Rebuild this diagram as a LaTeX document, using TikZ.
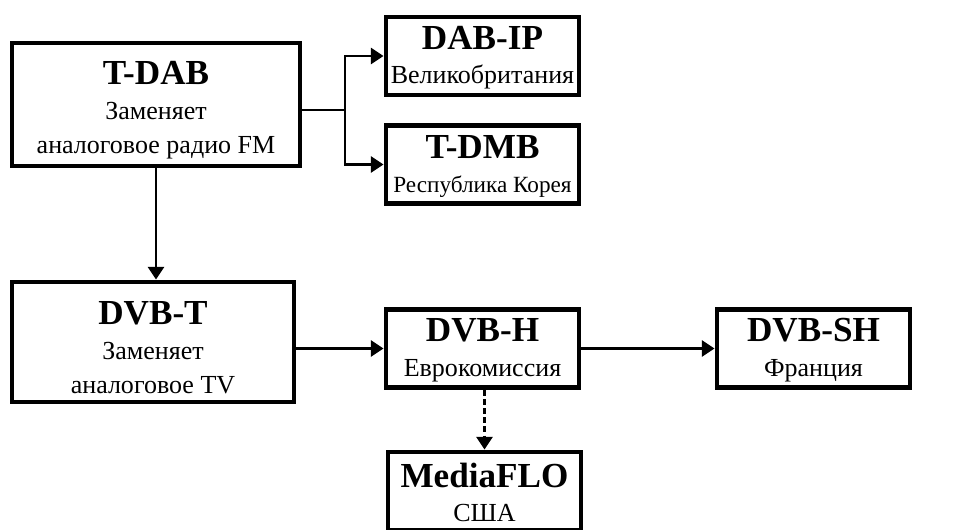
\documentclass[tikz,border=0pt]{standalone}
\usepackage{fontspec}
\setmainfont{Liberation Serif}
\usetikzlibrary{positioning, arrows.meta}
% titulo de cada caja
\newcommand{\tit}[2][19pt]{\rule{0pt}{#1}{\fontsize{25}{28}\selectfont\bfseries #2}}

\begin{document}
\begin{tikzpicture}[x=0.025cm,y=-0.025cm,
        caja/.style={draw,line width=3.4pt,align=center,inner sep=0pt,
            minimum width=4.825cm,minimum height=1.95cm,
            font=\fontsize{18.5}{24.5}\selectfont},
        flecha/.style={line width=2pt,-{Triangle[length=3.2mm,width=4mm]}}]
            % marco de la figura
            \useasboundingbox (0,0) rectangle (958,530);

            % La fila de arriba
            \node[caja,minimum width=7.2cm,minimum height=3.075cm](tdab) at (156,104.5)
                {\tit[25pt]{T-DAB}\\ Заменяет\\ аналоговое радио FM};
            \node[caja](dabip) at (482.5,56) {\tit{DAB-IP}\\ Великобритания};
            \node[caja](tdmb) at (482.5,164.5)
                {\tit{T-DMB}\\ {\fontsize{16.5}{20}\selectfont Республика Корея}};

            % La fila de abajo
            \node[caja,minimum width=7.05cm,minimum height=3.0cm](dvbt) at (153,342)
                {\tit[25pt]{DVB-T}\\ Заменяет\\ аналоговое TV};
            \node[caja](dvbh) at (482.5,348.5) {\tit{DVB-H}\\ Еврокомиссия};
            \node[caja](dvbsh) at (813.5,348.5) {\tit{DVB-SH}\\ Франция};
            \node[caja](mflo) at (484.5,491) {\tit{MediaFLO}\\ США};

            \coordinate (rama) at (345,110);

            \draw[line width=2pt] (tdab.east |- rama) -- (rama);
            \draw[flecha] (rama) |- (dabip.west);
            \draw[flecha] (rama) |- (tdmb.west);

            \draw[flecha] (tdab.south) -- (tdab.south |- dvbt.north);
            \draw[flecha] (dvbt.east |- dvbh.west) -- (dvbh.west);
            \draw[flecha] (dvbh.east) -- (dvbsh.west);
            \draw[flecha,dash pattern=on 4pt off 2.5pt] (dvbh.south -| mflo.north) -- (mflo.north);
        \end{tikzpicture}
\end{document}
